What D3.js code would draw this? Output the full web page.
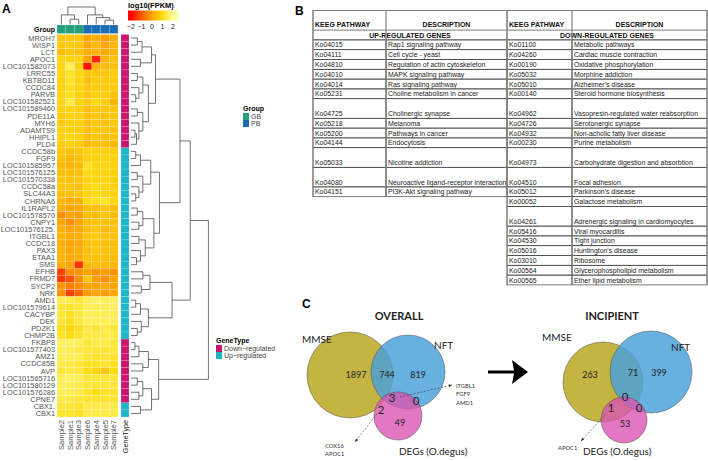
<!DOCTYPE html>
<html>
<head>
<meta charset="utf-8">
<script src="https://cdn.jsdelivr.net/npm/d3@7"></script>
<style>
  body { margin: 0; background: #fff; }
  text { font-family: "Liberation Sans", Arial, sans-serif; }
  .venn text { font-family: Lato, "Open Sans", sans-serif; }
</style>
</head>
<body>
<script>
// ---------- data: panel A heatmap ----------
var genes = ["MROH7","WISP1","LCT","APOC1","LOC101582073","LRRC55","KBTBD11","CCDC84","PARVB",
  "LOC101582521","LOC101589460","PDE11A","MYH6","ADAMTS9","HHIPL1","PLD4",
  "CCDC58b","FGF9","LOC101585957","LOC101576125","LOC101570338","CCDC58a","SLC44A3","CHRNA6",
  "IL1RAPL2","LOC101578570","CNPY1","LOC101576125.","ITGBL1","CCDC18","PAX3","ETAA1","SMS",
  "EFHB","FRMD7","SYCP2","NRK","AMD1","LOC101579614","CACYBP","DEK","PDZK1","CHMP2B",
  "FKBP8","LOC101577403","AMZ1","CCDC85B","AVP","LOC101565716","LOC101580129","LOC101576286","CPNE7",
  "CBX1.","CBX1"];
var geneType = [
  "Down","Down","Down","Down","Down","Down","Down","Down","Down","Down","Down","Down","Down","Down","Down","Down",
  "Up","Up","Up","Up","Up","Up","Up","Up","Up","Up","Up","Up","Up","Up","Up","Up","Up","Up","Up","Up","Up",
  "Up","Up","Up","Up","Up","Up",
  "Down","Down","Down","Down","Down","Down","Down","Down","Down",
  "Up","Up"];
var samples = ["Sample2","Sample1","Sample3","Sample6","Sample4","Sample5","Sample7"];
var sampleGroup = ["GB","GB","GB","PB","PB","PB","PB"];
var groupNames = ["GB","PB"];
var typeNames = ["Down\u2212regulated","Up\u2212regulated"];
var colorTicks = [-2,-1,0,1,2];

// log10(FPKM), one row per gene, columns in sample order
var expr = [
  [0.6,0.6,0.6,0.0,0.2,-0.1,0.2],
  [0.6,0.7,0.6,0.1,0.4,0.0,0.3],
  [0.5,0.6,0.5,0.2,0.3,0.1,0.3],
  [0.9,0.9,0.9,0.0,-1.6,0.3,0.5],
  [0.9,1.5,0.8,-1.8,0.3,0.4,0.5],
  [0.9,1.2,0.9,0.6,0.6,0.6,0.7],
  [0.8,1.2,0.9,0.5,0.7,0.7,0.7],
  [0.8,1.1,0.9,0.6,0.7,0.7,0.7],
  [0.9,1.1,0.8,0.6,0.8,0.7,0.5],
  [0.9,1.4,0.9,0.7,1.0,0.8,0.3],
  [0.8,0.9,0.8,0.5,0.6,0.6,0.6],
  [0.7,0.8,0.8,0.5,0.6,0.5,0.6],
  [0.7,0.8,0.8,0.5,0.6,0.5,0.6],
  [0.8,0.8,0.7,0.5,0.6,0.6,0.5],
  [0.8,0.9,0.8,0.5,0.6,0.5,0.5],
  [0.7,0.8,0.7,0.4,0.5,0.5,0.3],
  [0.6,0.5,0.6,0.8,0.8,0.8,0.7],
  [0.5,0.4,0.5,0.8,0.8,0.9,0.8],
  [0.4,0.3,0.4,1.1,0.9,0.9,0.8],
  [0.5,0.5,0.5,1.0,0.9,0.9,0.8],
  [0.6,0.5,0.6,0.9,0.9,0.9,0.8],
  [0.6,0.6,0.5,0.9,1.0,0.9,0.8],
  [0.5,0.5,0.6,0.9,1.0,0.9,0.8],
  [0.4,0.2,0.2,1.0,1.1,1.2,0.9],
  [0.2,0.0,0.1,0.5,0.5,0.6,0.4],
  [-0.3,0.0,-0.1,0.5,0.4,0.6,0.4],
  [0.0,-0.3,0.0,0.5,0.6,0.5,0.5],
  [0.2,0.0,0.1,0.5,0.6,0.4,0.5],
  [0.3,0.1,0.2,0.6,0.7,0.6,0.5],
  [0.2,0.0,0.1,0.5,0.6,0.5,0.5],
  [0.3,0.0,0.2,0.5,0.6,0.5,0.5],
  [0.3,0.1,0.2,0.5,0.5,0.5,0.4],
  [0.2,0.0,-1.4,0.4,0.4,0.4,0.3],
  [-1.3,-0.3,-0.2,0.0,-0.2,-0.1,-0.2],
  [-1.4,-1.1,-0.3,0.6,-0.1,-0.3,0.0],
  [-0.2,-0.5,-0.3,0.0,0.0,0.1,0.0],
  [-0.3,-1.3,-0.8,-0.1,0.0,-0.1,0.0],
  [1.5,1.4,1.3,1.5,1.6,1.5,1.6],
  [1.3,1.2,1.3,1.5,1.5,1.5,1.6],
  [1.3,1.1,1.3,1.5,1.5,1.5,1.5],
  [1.3,1.1,1.3,1.5,1.5,1.5,1.5],
  [1.1,0.9,1.1,1.4,1.3,1.4,1.3],
  [1.2,1.0,1.2,1.4,1.4,1.4,1.4],
  [1.6,1.6,1.5,1.3,1.4,1.4,1.3],
  [1.5,1.5,1.4,1.3,1.3,1.3,1.3],
  [1.5,1.5,1.5,1.3,1.2,1.3,1.2],
  [1.4,1.4,1.3,1.1,1.1,1.2,1.1],
  [1.3,1.4,1.3,1.0,0.9,0.6,1.0],
  [1.5,1.6,1.5,1.3,1.3,1.3,1.3],
  [1.5,1.5,1.4,1.3,1.3,1.3,1.3],
  [1.5,1.5,1.4,1.2,1.0,1.2,1.2],
  [1.4,1.4,1.3,1.2,1.2,1.2,1.2],
  [1.3,1.3,1.2,1.4,1.4,1.4,1.4],
  [1.2,1.2,1.1,1.4,1.4,1.4,1.4]
];

// clustering trees: [mergeHeight, child, child], leaves are row / column indices
var rowTree = [9.8,
  [7.5,
    [6.2,
      [3.1, [2.6, [1.4, [0.8, 0, 1], 2], [1.2, 3, 4]],
            [2.2, [1.5, [0.8, 5, 6], [1.0, 7, [0.6, 8, 9]]],
                  [1.5, [0.8, 10, 11], [1.0, 12, [0.7, [0.5, 13, 14], 15]]]]],
      [3.6, [2.5, [1.2, [0.6, 16, 17], 18], [1.5, [0.8, 19, 20], [1.0, 21, [0.6, 22, 23]]]],
            [2.9, [1.5, [0.8, 24, 25], [1.0, 26, 27]], [1.8, [1.0, 28, 29], [1.2, 30, [0.7, 31, 32]]]]]],
    [5.2, [2.4, [1.5, 33, 34], [1.3, 35, 36]],
          [2.2, [1.2, [0.6, 37, 38], 39], [1.3, 40, [0.8, 41, 42]]]]],
  [3.5, [2.2, [1.0, [0.5, 43, 44], 45], [1.5, 46, 47]],
        [2.6, [1.5, [0.8, 48, 49], [1.0, 50, 51]], [1.2, 52, 53]]]];
var colTree = [10, [5.5, 0, [3, 1, 2]], [5.5, 3, [4, 4, [2.5, 5, 6]]]];

// ---------- data: panel B table ----------
var upIds = ["Ko04015","Ko04111","Ko04810","Ko04010","Ko04014","Ko05231","Ko04725","Ko05218",
  "Ko05200","Ko04144","Ko05033","Ko04080","Ko04151"];
var upDesc = ["Rap1 signaling pathway","Cell cycle - yeast","Regulation of actin cytoskeleton",
  "MAPK signaling pathway","Ras signaling pathway","Choline metabolism in cancer","Cholinergic synapse",
  "Melanoma","Pathways in cancer","Endocytosis","Nicotine addiction",
  "Neuroactive ligand-receptor interaction","PI3K-Akt signaling pathway"];
var downIds = ["Ko01100","Ko04260","Ko00190","Ko05032","Ko05010","Ko00140","Ko04962","Ko04726",
  "Ko04932","Ko00230","Ko04973","Ko04510","Ko05012","Ko00052","Ko04261","Ko05416","Ko04530",
  "Ko05016","Ko03010","Ko00564","Ko00565"];
var downDesc = ["Metabolic pathways","Cardiac muscle contraction","Oxidative phosphorylation",
  "Morphine addiction","Alzheimer's disease","Steroid hormone biosynthesis",
  "Vasopresin-regulated water reabsorption","Serotonergic synapse","Non-acholic fatty liver disease",
  "Purine metabolism","Carbohydrate digestion and absorbtion","Focal adhesion","Parkinson's disease",
  "Galactose metabolism","Adrenergic signaling in cardiomyocytes","Viral myocarditis","Tight junction",
  "Huntington's disease","Ribosome","Glycerophospholipid metabolism","Ether lipid metabolism"];

// ---------- data: panel C venn ----------
var vennSets = ["MMSE","NFT","DEGs (O.degus)"];
// regions: MMSE only, MMSE&NFT, NFT only, MMSE&DEG, all three, NFT&DEG, DEG only
var overallCounts = [1897, 744, 819, 2, 3, 0, 49];
var incipientCounts = [263, 71, 399, 1, 0, 0, 53];
var overallShared = ["ITGBL1","FGF9","AMD1"];
var overallMmseDeg = ["COX16","APOC1"];
var incipientMmseDeg = ["APOC1"];

// ---------- drawing ----------
var svg = d3.select("body").append("svg")
  .attr("width", 708).attr("height", 461);

// ===== Panel A =====
var gA = svg.append("g");
gA.append("text").attr("x", 2).attr("y", 13).attr("font-size", 12).attr("font-weight", "bold").text("A");

var xCol = d3.scaleBand().domain(d3.range(samples.length)).range([57, 118]);
var yRow = d3.scaleBand().domain(d3.range(genes.length)).range([34.5, 417]);
var heat = d3.scaleLinear().domain(colorTicks)
  .range(["#ff0000", "#ff5a00", "#ffa400", "#ffdc10", "#ffff9a"]).clamp(true);
var groupColor = d3.scaleOrdinal().domain(groupNames).range(["#21a07a", "#1a6db5"]);
var typeColor = d3.scaleOrdinal().domain(["Down","Up"]).range(["#c8176f", "#1db5c8"]);

// cells
var cells = [];
expr.forEach(function(row, i) { row.forEach(function(v, j) { cells.push({i: i, j: j, v: v}); }); });
gA.append("g").selectAll("rect").data(cells).enter().append("rect")
  .attr("x", d => xCol(d.j)).attr("y", d => yRow(d.i))
  .attr("width", xCol.bandwidth()).attr("height", yRow.bandwidth())
  .attr("fill", d => heat(d.v))
  .attr("stroke", "#ffffff").attr("stroke-opacity", 0.3).attr("stroke-width", 0.5);

// group annotation bar
gA.append("g").selectAll("rect").data(sampleGroup).enter().append("rect")
  .attr("x", (d, j) => xCol(j)).attr("y", 25).attr("width", xCol.bandwidth()).attr("height", 8.5)
  .attr("fill", d => groupColor(d)).attr("stroke", "#ffffff").attr("stroke-opacity", 0.3).attr("stroke-width", 0.5);
gA.append("text").attr("x", 55).attr("y", 32).attr("text-anchor", "end")
  .attr("font-size", 7).attr("font-weight", "bold").text("Group");

// gene type bar
gA.append("g").selectAll("rect").data(geneType).enter().append("rect")
  .attr("x", 121).attr("y", (d, i) => yRow(i)).attr("width", 8).attr("height", yRow.bandwidth())
  .attr("fill", d => typeColor(d)).attr("stroke", "#ffffff").attr("stroke-opacity", 0.3).attr("stroke-width", 0.5);

// row labels
gA.append("g").selectAll("text").data(genes).enter().append("text")
  .attr("x", 55).attr("y", (d, i) => yRow(i) + yRow.bandwidth() / 2 + 2.6)
  .attr("text-anchor", "end").attr("font-size", 7.4).attr("fill", "#555").text(d => d);

// column labels
gA.append("g").selectAll("text").data(samples).enter().append("text")
  .attr("transform", (d, j) => "translate(" + (xCol(j) + xCol.bandwidth() / 2 + 2.6) + ",420) rotate(-90)")
  .attr("text-anchor", "end").attr("font-size", 7.6).attr("fill", "#555").text(d => d);
gA.append("text").attr("transform", "translate(127.6,420) rotate(-90)")
  .attr("text-anchor", "end").attr("font-size", 7.2).attr("fill", "#111").text("GeneType");

// dendrograms
function drawTree(g, tree, leafPos, hPos, horizontal) {
  var segs = [];
  function seg(p1, h1, p2, h2) {
    segs.push(horizontal ? [[hPos(h1), p1], [hPos(h2), p2]] : [[p1, hPos(h1)], [p2, hPos(h2)]]);
  }
  function walk(n) {
    if (typeof n === "number") return {p: leafPos(n), h: 0};
    var h = n[0];
    var kids = n.slice(1).map(walk);
    kids.forEach(function(k) { seg(k.p, k.h, k.p, h); });
    seg(kids[0].p, h, kids[kids.length - 1].p, h);
    return {p: (kids[0].p + kids[kids.length - 1].p) / 2, h: h};
  }
  walk(tree);
  g.append("g").selectAll("path").data(segs).enter().append("path")
    .attr("d", d3.line())
    .attr("fill", "none").attr("stroke", "#444").attr("stroke-width", 0.75);
}
drawTree(gA, rowTree, i => yRow(i) + yRow.bandwidth() / 2,
  d3.scaleLinear().domain([0, 10]).range([131, 210]), true);
drawTree(gA, colTree, j => xCol(j) + xCol.bandwidth() / 2,
  d3.scaleLinear().domain([0, 10]).range([24.5, 7]), false);

// color key
var keyX = d3.scaleLinear().domain([-2, 2]).range([131, 173]);
var defs = svg.append("defs");
var grad = defs.append("linearGradient").attr("id", "heatgrad");
d3.range(0, 1.001, 0.05).forEach(function(t) {
  var px = 128 + t * 50;
  grad.append("stop").attr("offset", t).attr("stop-color", heat(keyX.invert(px)));
});
gA.append("rect").attr("x", 128).attr("y", 10.5).attr("width", 50).attr("height", 10)
  .attr("fill", "url(#heatgrad)");
gA.append("text").attr("x", 128).attr("y", 8).attr("font-size", 7.5).attr("font-weight", "bold")
  .text("log10(FPKM)");
gA.append("g").selectAll("text").data(colorTicks).enter().append("text")
  .attr("x", d => keyX(d)).attr("y", 28.5).attr("text-anchor", "middle")
  .attr("font-size", 7).attr("fill", "#222").text(d => d === 0 ? "0" : (d < 0 ? "\u2212" + (-d) : d));

// legends
var lg = gA.append("g");
lg.append("text").attr("x", 243).attr("y", 111).attr("font-size", 7).attr("font-weight", "bold").text("Group");
groupNames.forEach(function(n, k) {
  lg.append("rect").attr("x", 243).attr("y", 113 + k * 7).attr("width", 6).attr("height", 7).attr("fill", groupColor(n));
  lg.append("text").attr("x", 251).attr("y", 119 + k * 7).attr("font-size", 7).attr("fill", "#444").text(n);
});
lg.append("text").attr("x", 216).attr("y", 343).attr("font-size", 7).attr("font-weight", "bold").text("GeneType");
["Down","Up"].forEach(function(n, k) {
  lg.append("rect").attr("x", 216).attr("y", 345 + k * 7).attr("width", 6).attr("height", 7).attr("fill", typeColor(n));
  lg.append("text").attr("x", 224).attr("y", 351 + k * 7).attr("font-size", 7).attr("fill", "#444").text(typeNames[k]);
});

// ===== Panel B =====
var gB = svg.append("g");
gB.append("text").attr("x", 295).attr("y", 15).attr("font-size", 12).attr("font-weight", "bold").text("B");

var colEdges = [313, 386, 507, 572, 707];
var unit = 9.8, tTop = 10.5, headH = 2 * unit, subH = unit;
var upSpan = [1,1,1,1,1,1,2,1,1,1,2,2,1];
var downSpan = [1,1,1,1,1,1,2,1,1,1,2,2,1,1,2,1,1,1,1,1,1];
var bodyTop = tTop + headH + subH;
var fs = 6.9;

function drawCol(ids, descs, spans, c0) {
  var y = bodyTop;
  ids.forEach(function(id, k) {
    var h = spans[k] * unit;
    [c0, c0 + 1].forEach(function(c, m) {
      gB.append("rect").attr("x", colEdges[c]).attr("y", y).attr("width", colEdges[c + 1] - colEdges[c]).attr("height", h)
        .attr("fill", "none").attr("stroke", "#444").attr("stroke-width", 0.7);
      gB.append("text").attr("x", colEdges[c] + 2).attr("y", y + h - 2.3).attr("font-size", fs).attr("fill", "#222")
        .text(m === 0 ? id : descs[k]);
    });
    y += h;
  });
  // grey column rules
  [c0, c0 + 1, c0 + 2].forEach(function(c) {
    gB.append("line").attr("x1", colEdges[c]).attr("x2", colEdges[c]).attr("y1", tTop).attr("y2", y)
      .attr("stroke", "#8a8a8a").attr("stroke-width", 1.3);
  });
}
// header
gB.append("rect").attr("x", colEdges[0]).attr("y", tTop).attr("width", colEdges[4] - colEdges[0]).attr("height", headH + subH)
  .attr("fill", "none").attr("stroke", "#444").attr("stroke-width", 0.7);
gB.append("line").attr("x1", colEdges[0]).attr("x2", colEdges[4]).attr("y1", tTop + headH).attr("y2", tTop + headH)
  .attr("stroke", "#444").attr("stroke-width", 0.7);
var heads = ["KEEG PATHWAY","DESCRIPTION","KEEG PATHWAY","DESCRIPTION"];
heads.forEach(function(t, c) {
  var isId = c % 2 === 0;
  gB.append("text").attr("x", isId ? colEdges[c] + 2 : (colEdges[c] + colEdges[c + 1]) / 2)
    .attr("y", tTop + headH - 3).attr("text-anchor", isId ? "start" : "middle")
    .attr("font-size", 7).attr("font-weight", "bold").attr("fill", "#111").text(t);
});
["UP-REGULATED GENES","DOWN-REGULATED GENES"].forEach(function(t, k) {
  gB.append("text").attr("x", (colEdges[2 * k] + colEdges[2 * k + 2]) / 2).attr("y", tTop + headH + subH - 2.4)
    .attr("text-anchor", "middle").attr("font-size", 7).attr("font-weight", "bold").attr("fill", "#111").text(t);
});
drawCol(upIds, upDesc, upSpan, 0);
drawCol(downIds, downDesc, downSpan, 2);

// ===== Panel C =====
var gC = svg.append("g").attr("class", "venn");
gC.append("text").attr("x", 302).attr("y", 308).attr("font-size", 12).attr("font-weight", "bold")
  .style("font-family", "Liberation Sans").text("C");

var vennColors = ["#c4b441", "#4aa1da", "#da56b2"];
var layouts = [
  {title: "OVERALL", tx: 399, counts: overallCounts,
   circles: [[350, 375, 43], [408, 372, 37], [398, 416, 24]],
   labels: [[302, 343], [434, 349], [399, 455]],
   spots: [[356, 378], [387, 378], [418, 378], [381, 414], [392, 402], [416, 405], [400, 426]]},
  {title: "INCIPIENT", tx: 612, counts: incipientCounts,
   circles: [[603, 382, 40], [651, 372, 41], [624, 420, 23]],
   labels: [[542, 341], [671, 351], [583, 455]],
   spots: [[590, 378], [633, 376], [659, 376], [611, 412], [625, 401], [639, 412], [625, 427]]}
];
layouts.forEach(function(L) {
  var g = gC.append("g");
  g.append("text").attr("x", L.tx).attr("y", 320).attr("text-anchor", "middle")
    .attr("font-size", 11).attr("font-weight", "bold").attr("fill", "#222").text(L.title);
  g.selectAll("circle").data(L.circles).enter().append("circle")
    .attr("cx", d => d[0]).attr("cy", d => d[1]).attr("r", d => d[2])
    .attr("fill", (d, k) => vennColors[k]).attr("fill-opacity", (d, k) => k === 0 ? 1 : (k === 1 ? 0.84 : 0.8))
    .attr("stroke", "#4a4a4a").attr("stroke-width", 0.5);
  g.selectAll("text.lab").data(vennSets).enter().append("text").attr("class", "lab")
    .attr("x", (d, k) => L.labels[k][0]).attr("y", (d, k) => L.labels[k][1])
    .attr("font-size", 10).attr("fill", "#222").text(d => d);
  g.selectAll("text.num").data(L.counts).enter().append("text").attr("class", "num")
    .attr("x", (d, k) => L.spots[k][0]).attr("y", (d, k) => L.spots[k][1])
    .attr("text-anchor", "middle")
    .attr("font-size", (d, k) => (k >= 3 && k <= 5) ? 11.5 : 9)
    .attr("fill", "#222").text(d => d);
});

// dashed call-outs
function callout(x1, y1, x2, y2) {
  gC.append("line").attr("x1", x1).attr("y1", y1).attr("x2", x2).attr("y2", y2)
    .attr("stroke", "#333").attr("stroke-width", 0.6).attr("stroke-dasharray", "2,1.5");
  var a = Math.atan2(y2 - y1, x2 - x1), s = 3.5;
  var pts = [[x2, y2],
    [x2 - s * Math.cos(a - 0.4), y2 - s * Math.sin(a - 0.4)],
    [x2 - s * Math.cos(a + 0.4), y2 - s * Math.sin(a + 0.4)]];
  gC.append("path").attr("d", d3.line()(pts) + "Z").attr("fill", "#222");
}
callout(400, 397, 452, 385);
callout(377, 414, 355, 442);
callout(606, 414, 581, 441);
function geneList(list, x, y) {
  gC.append("g").selectAll("text").data(list).enter().append("text")
    .attr("x", x).attr("y", (d, k) => y + k * 8.3)
    .attr("font-size", 5.8).attr("fill", "#333").text(d => d);
}
geneList(overallShared, 456, 388);
geneList(overallMmseDeg, 325, 448);
geneList(incipientMmseDeg, 558, 450);

// big arrow
gC.append("path").attr("d", d3.line()([[488, 370.5], [514, 370.5], [512, 360], [528, 372], [512, 384], [514, 373.5], [488, 373.5]]) + "Z")
  .attr("fill", "#000");
</script>
</body>
</html>
